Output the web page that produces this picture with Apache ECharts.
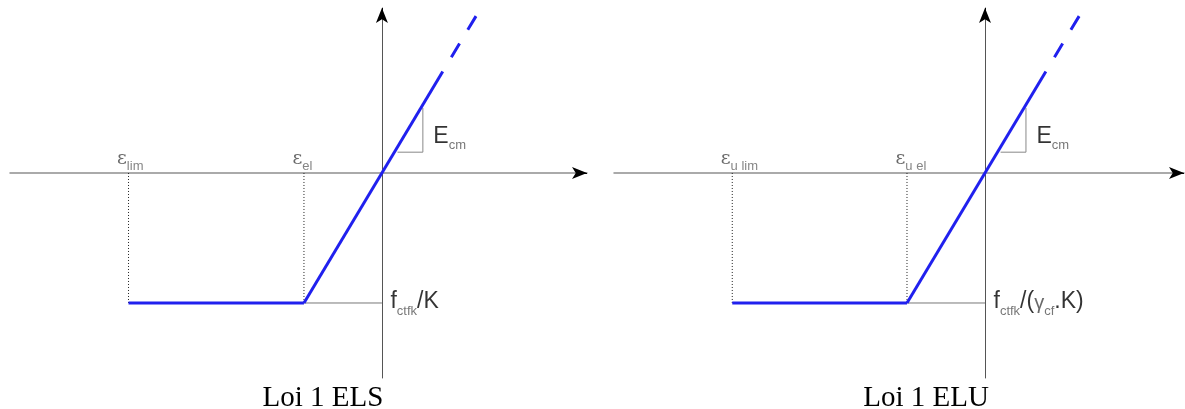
<!DOCTYPE html>
<html>
<head>
<meta charset="utf-8">
<script src="https://cdn.jsdelivr.net/npm/echarts@6/dist/echarts.min.js"></script>
<style>html,body{margin:0;padding:0;background:#fff;}#c{width:1185px;height:409px;}</style>
</head>
<body>
<div id="c"></div>
<script>
// ---- data (strain in units of eps_el, stress in units of the plateau stress) ----
const panelTitles = ['Loi 1 ELS', 'Loi 1 ELU'];
const strainLimitSubs = ['lim', 'u lim'];
const strainElasticSubs = ['el', 'u el'];
const strainLimit = [-3.25, -3.24];
const strainElastic = [-1, -1];
const stressPlateau = [-1, -1];
const elasticSolidEnd = [0.78, 0.78];
const elasticDashStart = [0.89, 0.89];
const elasticDashEnd = [1.22, 1.23];
const slopeTriangle = [[0.2, 0.16], [0.525, 0.16], [0.525, 0.5]];
const xRange = [[-4.77, 2.63], [-4.756, 2.551]];
const yRange = [-1.577, 1.269];

const BLUE = '#2020ee';
const grids = [
  { left: 10, top: 8, width: 577, height: 370 },
  { left: 614, top: 8, width: 570, height: 370 }
];
const titleCenters = [318, 921];

const rich = {
  e: { fontFamily: 'DejaVu Serif', fontSize: 19, lineHeight: 19, color: '#444', verticalAlign: 'top' },
  es: { fontFamily: 'Liberation Sans', fontSize: 13, lineHeight: 13, color: '#666', verticalAlign: 'top', padding: [10, 0, 0, 0] },
  b: { fontFamily: 'Liberation Sans', fontSize: 23, lineHeight: 23, color: '#000', verticalAlign: 'top' },
  g: { fontFamily: 'Liberation Sans', fontSize: 20, lineHeight: 23, color: '#444', verticalAlign: 'top', padding: [3, 0, 0, 0] },
  s: { fontFamily: 'Liberation Sans', fontSize: 13, lineHeight: 13, color: '#555', verticalAlign: 'top', padding: [14, 0, 0, 0] }
};
const fLabels = ['{b|f}{s|ctfk}{b|/K}', '{b|f}{s|ctfk}{b|/(}{g|γ}{s|cf}{b|.K)}'];

const xAxis = [], yAxis = [], series = [], title = [];
for (let i = 0; i < 2; i++) {
  xAxis.push({
    type: 'value', gridIndex: i, min: xRange[i][0], max: xRange[i][1],
    axisLine: { onZero: true, lineStyle: { color: '#8e8e8e', width: 1.5 } },
    axisTick: { show: false }, axisLabel: { show: false }, splitLine: { show: false }
  });
  yAxis.push({
    type: 'value', gridIndex: i, min: yRange[0], max: yRange[1],
    axisLine: { onZero: true, lineStyle: { color: '#555', width: 1 } },
    axisTick: { show: false }, axisLabel: { show: false }, splitLine: { show: false }
  });
  const ax = { xAxisIndex: i, yAxisIndex: i, type: 'line', symbol: 'none', silent: true, animation: false };
  // dotted guides
  [strainLimit[i], strainElastic[i]].forEach(function (eps) {
    series.push(Object.assign({}, ax, { z: 2, data: [[eps, 0], [eps, stressPlateau[i]]],
      lineStyle: { color: '#222', width: 1, type: [1, 2] } }));
  });
  // grey plateau projection to the axis
  series.push(Object.assign({}, ax, { z: 2, data: [[strainElastic[i], stressPlateau[i]], [0, stressPlateau[i]]],
    lineStyle: { color: '#777', width: 1 } }));
  // slope triangle
  series.push(Object.assign({}, ax, { z: 2, data: slopeTriangle,
    lineStyle: { color: '#888', width: 1 } }));
  // plateau (with arrow heads of the axes)
  series.push(Object.assign({}, ax, { z: 5, data: [[strainLimit[i], stressPlateau[i]], [strainElastic[i], stressPlateau[i]]],
    lineStyle: { color: BLUE, width: 3 },
    markLine: {
      silent: true, animation: false, symbol: ['none', 'arrow'], symbolSize: [9, 15],
      label: { show: false }, lineStyle: { color: '#000', width: 1, type: 'solid' },
      data: [
        [{ coord: [xRange[i][1] - 0.05, 0] }, { coord: [xRange[i][1], 0] }],
        [{ coord: [0, yRange[1] - 0.05] }, { coord: [0, yRange[1]] }]
      ]
    } }));
  // elastic branch
  series.push(Object.assign({}, ax, { z: 5, data: [[strainElastic[i], stressPlateau[i]], [elasticSolidEnd[i], elasticSolidEnd[i]]],
    lineStyle: { color: BLUE, width: 3 } }));
  series.push(Object.assign({}, ax, { z: 5, data: [[elasticDashStart[i], elasticDashStart[i]], [elasticDashEnd[i], elasticDashEnd[i]]],
    lineStyle: { color: BLUE, width: 3, type: [16, 16] } }));
  // labels
  series.push({
    type: 'scatter', xAxisIndex: i, yAxisIndex: i, silent: true, animation: false, z: 6,
    symbolSize: 1, itemStyle: { color: 'rgba(0,0,0,0)' },
    label: { show: true, position: 'right', distance: 0, rich: rich },
    data: [
      { value: [strainLimit[i], 0], label: { formatter: '{e|ε}{es|' + strainLimitSubs[i] + '}', offset: [-12, -14] } },
      { value: [strainElastic[i], 0], label: { formatter: '{e|ε}{es|' + strainElasticSubs[i] + '}', offset: [-12, -14] } },
      { value: [slopeTriangle[1][0], slopeTriangle[1][1]], label: { formatter: '{b|E}{s|cm}', offset: [10, -16] } },
      { value: [0, stressPlateau[i]], label: { formatter: fLabels[i], offset: [8, -1] } }
    ]
  });
  title.push({
    text: panelTitles[i], left: titleCenters[i], top: 379, textAlign: 'center',
    textStyle: { fontFamily: 'Liberation Serif', fontSize: 29, fontWeight: 'normal', color: '#000' }
  });
}

const chart = echarts.init(document.getElementById('c'), null, { renderer: 'canvas' });
chart.setOption({
  backgroundColor: '#fff',
  animation: false,
  title: title,
  grid: grids,
  xAxis: xAxis,
  yAxis: yAxis,
  series: series
});
</script>
</body>
</html>
